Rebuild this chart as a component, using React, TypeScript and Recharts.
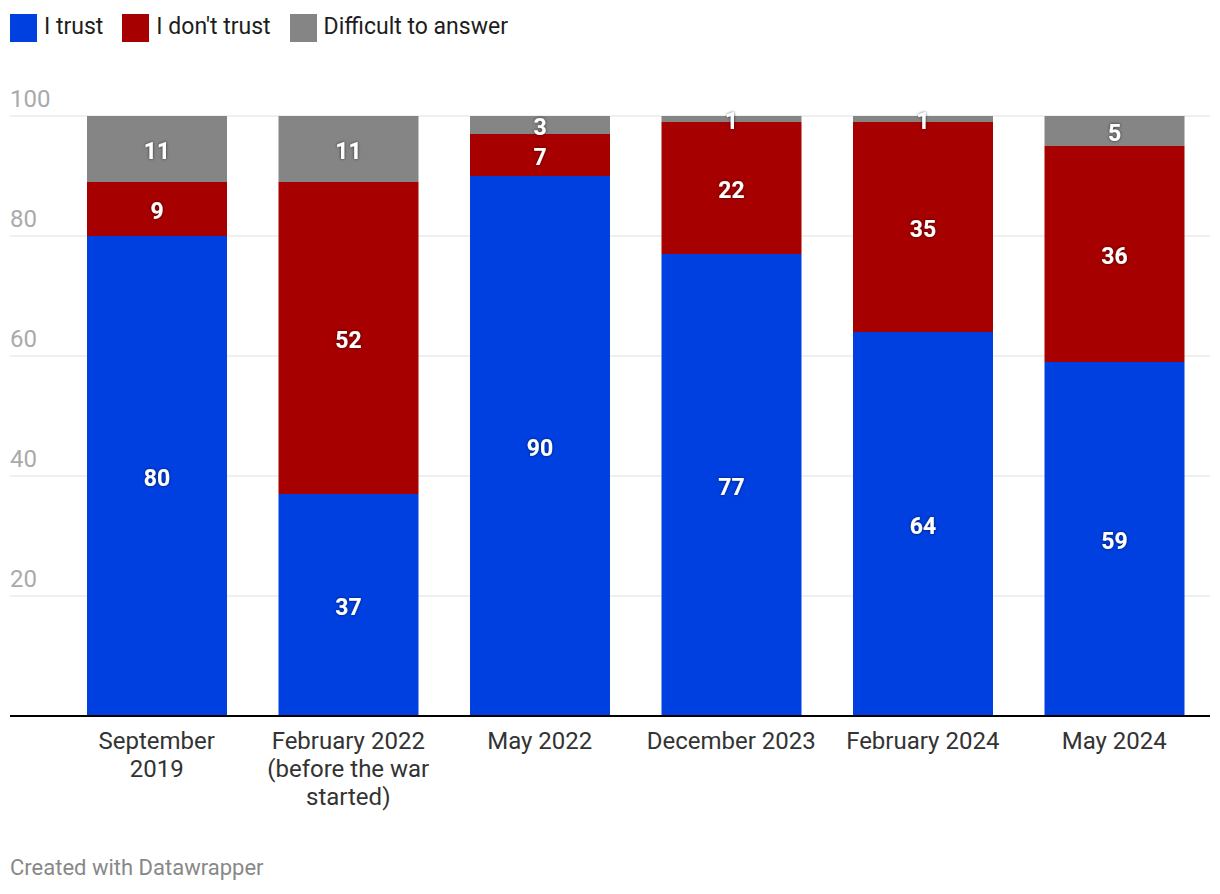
import { BarChart, Bar, XAxis, YAxis, CartesianGrid, LabelList } from 'recharts';

// Survey waves (x-axis), line breaks follow the original label wrapping
const CATEGORIES = [
  'September\n2019',
  'February 2022\n(before the war\nstarted)',
  'May 2022',
  'December 2023',
  'February 2024',
  'May 2024',
];

// Shares in %, bottom to top of each stack
const TRUST = [80, 37, 90, 77, 64, 59];
const DONT_TRUST = [9, 52, 7, 22, 35, 36];
const DIFFICULT = [11, 11, 3, 1, 1, 5];

const Y_TICKS = [0, 20, 40, 60, 80, 100];

const SERIES = [
  { key: 'trust', name: 'I trust', color: '#0040e0' },
  { key: 'dontTrust', name: "I don't trust", color: '#a60000' },
  { key: 'difficult', name: 'Difficult to answer', color: '#858585' },
];

const data = CATEGORIES.map((label, i) => ({
  label,
  trust: TRUST[i],
  dontTrust: DONT_TRUST[i],
  difficult: DIFFICULT[i],
}));

const FONT = 'Roboto, "Noto Sans", sans-serif';

function CategoryTick(props: any) {
  const { x, y, payload } = props;
  const lines = String(payload.value).split('\n');
  return (
    <text x={x} y={y} textAnchor="middle" fill="#333" fontSize={24} fontFamily={FONT}>
      {lines.map((line, i) => (
        <tspan key={i} x={x} dy={i === 0 ? 33 : 28}>
          {line}
        </tspan>
      ))}
    </text>
  );
}

function ValueTick(props: any) {
  const { y, payload } = props;
  if (payload.value === 0) return <g />;
  return (
    <text x={10} y={Number(y) - 9} fill="#aaaaaa" fontSize={24} fontFamily={FONT} textAnchor="start">
      {payload.value}
    </text>
  );
}

function SegmentLabel(props: any) {
  const x = Number(props.x);
  const y = Number(props.y);
  const width = Number(props.width);
  const height = Number(props.height);
  return (
    <text
      x={x + width / 2}
      y={y + height / 2}
      dy={10}
      textAnchor="middle"
      fill="#fff"
      fontWeight={700}
      fontSize={23}
      fontFamily={FONT}
      filter="url(#labelShadow)"
    >
      {props.value}
    </text>
  );
}

export default function App() {
  return (
    <div
      style={{
        position: 'absolute',
        left: 0,
        top: 0,
        width: 1220,
        height: 894,
        background: '#fff',
        fontFamily: FONT,
      }}
    >
      <svg width={0} height={0} style={{ position: 'absolute' }}>
        <defs>
          <filter id="labelShadow" x="-50%" y="-50%" width="200%" height="200%">
            <feDropShadow dx="0" dy="0" stdDeviation="1.6" floodColor="#000" floodOpacity="0.65" />
          </filter>
        </defs>
      </svg>

      {/* Legend */}
      <div
        style={{
          position: 'absolute',
          left: 10,
          top: 14,
          display: 'flex',
          alignItems: 'flex-start',
          gap: 19,
          fontSize: 23,
          color: '#1d1d1d',
          zIndex: 2,
        }}
      >
        {SERIES.map((s) => (
          <div key={s.key} style={{ display: 'flex', alignItems: 'flex-start', gap: 7 }}>
            <span style={{ display: 'inline-block', width: 27, height: 28, background: s.color }} />
            <span style={{ lineHeight: '25px' }}>{s.name}</span>
          </div>
        ))}
      </div>

      <BarChart
        width={1220}
        height={816}
        data={data}
        margin={{ top: 116, right: 10, left: 9, bottom: 0 }}
      >
        <CartesianGrid vertical={false} stroke="#e0e0e0" strokeWidth={1} />
        <YAxis
          type="number"
          domain={[0, 100]}
          ticks={Y_TICKS}
          width={1}
          axisLine={false}
          tickLine={false}
          tick={<ValueTick />}
          interval={0}
        />
        <XAxis
          dataKey="label"
          height={100}
          padding={{ left: 51, right: 0 }}
          axisLine={{ stroke: '#000', strokeWidth: 2 }}
          tickLine={false}
          tickSize={0}
          tickMargin={0}
          tick={<CategoryTick />}
          interval={0}
        />
        {SERIES.map((s) => (
          <Bar
            key={s.key}
            dataKey={s.key}
            name={s.name}
            stackId="a"
            fill={s.color}
            barSize={140}
            isAnimationActive={false}
          >
            <LabelList dataKey={s.key} content={<SegmentLabel />} />
          </Bar>
        ))}
      </BarChart>

      <div
        style={{
          position: 'absolute',
          left: 10,
          top: 855,
          fontSize: 22,
          color: '#888',
        }}
      >
        Created with Datawrapper
      </div>
    </div>
  );
}
